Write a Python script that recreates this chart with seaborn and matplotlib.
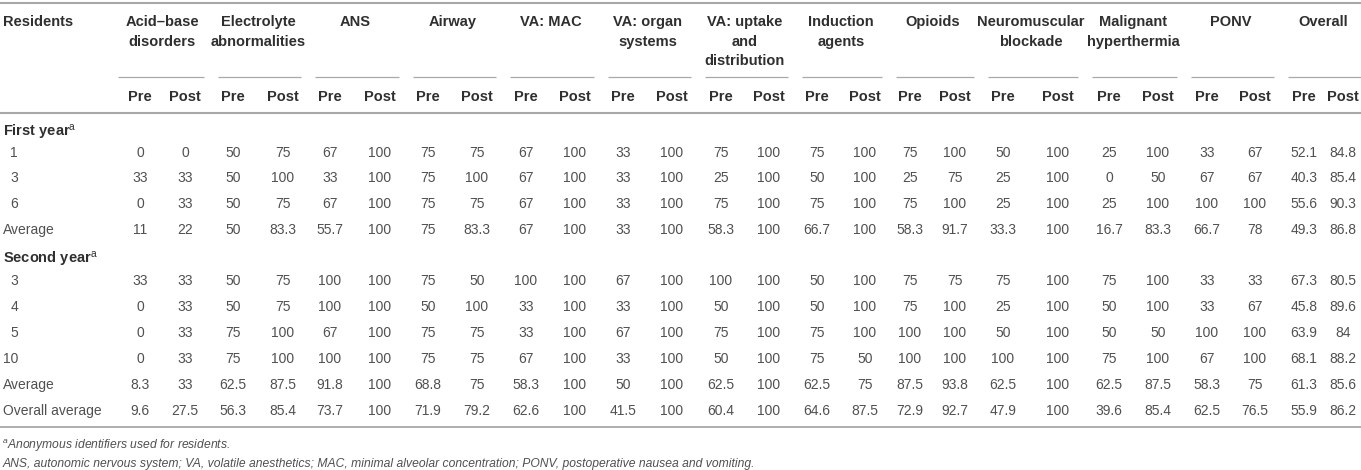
import matplotlib
matplotlib.use("Agg")
import matplotlib.pyplot as plt
import seaborn as sns

# ---------------- data ----------------
topics = [
    ["Acid\u2013base", "disorders"],
    ["Electrolyte", "abnormalities"],
    ["ANS"],
    ["Airway"],
    ["VA: MAC"],
    ["VA: organ", "systems"],
    ["VA: uptake", "and", "distribution"],
    ["Induction", "agents"],
    ["Opioids"],
    ["Neuromuscular", "blockade"],
    ["Malignant", "hyperthermia"],
    ["PONV"],
    ["Overall"],
]
sub_labels = ["Pre", "Post"]

first_year_ids = ["1", "3", "6"]
first_year_values = [
    ["0", "0", "50", "75", "67", "100", "75", "75", "67", "100", "33", "100", "75", "100", "75", "100", "75", "100", "50", "100", "25", "100", "33", "67", "52.1", "84.8"],
    ["33", "33", "50", "100", "33", "100", "75", "100", "67", "100", "33", "100", "25", "100", "50", "100", "25", "75", "25", "100", "0", "50", "67", "67", "40.3", "85.4"],
    ["0", "33", "50", "75", "67", "100", "75", "75", "67", "100", "33", "100", "75", "100", "75", "100", "75", "100", "25", "100", "25", "100", "100", "100", "55.6", "90.3"],
]
first_year_average = ["11", "22", "50", "83.3", "55.7", "100", "75", "83.3", "67", "100", "33", "100", "58.3", "100", "66.7", "100", "58.3", "91.7", "33.3", "100", "16.7", "83.3", "66.7", "78", "49.3", "86.8"]

second_year_ids = ["3", "4", "5", "10"]
second_year_values = [
    ["33", "33", "50", "75", "100", "100", "75", "50", "100", "100", "67", "100", "100", "100", "50", "100", "75", "75", "75", "100", "75", "100", "33", "33", "67.3", "80.5"],
    ["0", "33", "50", "75", "100", "100", "50", "100", "33", "100", "33", "100", "50", "100", "50", "100", "75", "100", "25", "100", "50", "100", "33", "67", "45.8", "89.6"],
    ["0", "33", "75", "100", "67", "100", "75", "75", "33", "100", "67", "100", "75", "100", "75", "100", "100", "100", "50", "100", "50", "50", "100", "100", "63.9", "84"],
    ["0", "33", "75", "100", "100", "100", "75", "75", "67", "100", "33", "100", "50", "100", "75", "50", "100", "100", "100", "100", "75", "100", "67", "100", "68.1", "88.2"],
]
second_year_average = ["8.3", "33", "62.5", "87.5", "91.8", "100", "68.8", "75", "58.3", "100", "50", "100", "62.5", "100", "62.5", "75", "87.5", "93.8", "62.5", "100", "62.5", "87.5", "58.3", "75", "61.3", "85.6"]

overall_average = ["9.6", "27.5", "56.3", "85.4", "73.7", "100", "71.9", "79.2", "62.6", "100", "41.5", "100", "60.4", "100", "64.6", "87.5", "72.9", "92.7", "47.9", "100", "39.6", "85.4", "62.5", "76.5", "55.9", "86.2"]

footnote_a = "Anonymous identifiers used for residents."
footnote_abbr = ("ANS, autonomic nervous system; VA, volatile anesthetics; MAC, minimal alveolar "
                 "concentration; PONV, postoperative nausea and vomiting.")

# ---------------- style ----------------
sns.set_theme(style="white")
plt.rcParams["font.family"] = ["Liberation Sans", "DejaVu Sans"]
plt.rcParams["mathtext.fontset"] = "custom"
plt.rcParams["mathtext.rm"] = "Liberation Sans"
plt.rcParams["mathtext.it"] = "Liberation Sans:italic"
plt.rcParams["mathtext.bf"] = "Liberation Sans:bold"

HEAD = "#2f2f2f"
BODY = "#505050"
RULE = "#a8a8a8"
FS = 10.0
FS_HEAD = 10.5
FS_NOTE = 8.7

# layout (pixel coordinates)
W, H = 1361, 470
col_x = [140, 185, 233, 283, 330, 380, 428, 477, 526, 575, 623, 672, 721, 769,
         817, 865, 910, 955, 1003, 1058, 1109, 1158, 1207, 1255, 1304, 1343]

fig = plt.figure(figsize=(W / 100, H / 100), dpi=100)
ax = fig.add_axes([0, 0, 1, 1])
ax.set_xlim(0, W)
ax.set_ylim(H, 0)
ax.axis("off")
sns.despine(ax=ax, left=True, bottom=True)

def txt(x, yc, s, **kw):
    # yc: visual centre of capitals -> baseline slightly lower
    kw.setdefault("fontsize", FS)
    kw.setdefault("color", BODY)
    ax.text(x, yc + 5, s, va="baseline", **kw)

def head(x, yc, s, **kw):
    txt(x, yc, s, fontweight="bold", color=HEAD, fontsize=FS_HEAD, **kw)

# rules
ax.hlines(2.5, 0, W, color=RULE, lw=1.5)
ax.hlines(113, 0, W, color=RULE, lw=1.5)
ax.hlines(427, 0, W, color=RULE, lw=1.3)

# header
head(3, 21, "Residents", ha="left")
line_y = [21, 41, 60]
for g, lines in enumerate(topics):
    xp, xq = col_x[2 * g], col_x[2 * g + 1]
    xc = (xp + xq) / 2
    for k, s in enumerate(lines):
        head(xc, line_y[k], s, ha="center")
    left = (col_x[2 * g - 1] + xp) / 2 + 9 if g > 0 else xp - 22
    right = (xq + col_x[2 * g + 2]) / 2 - 5 if g < len(topics) - 1 else W
    ax.hlines(77, left, right, color=RULE, lw=0.9)
    for j, lab in enumerate(sub_labels):
        head(col_x[2 * g + j], 96, lab, ha="center")

def data_row(yc, label, values, indent):
    if indent:
        txt(18, yc, label, ha="right")
    else:
        txt(3, yc, label, ha="left")
    for x, v in zip(col_x, values):
        txt(x, yc, v, ha="center")

# first year
head(3, 132, r"First year$^{\mathrm{a}}$", ha="left")
ys = [152, 177.5, 203]
for y, rid, vals in zip(ys, first_year_ids, first_year_values):
    data_row(y, rid, vals, True)
data_row(229, "Average", first_year_average, False)

# second year
head(3, 259, r"Second year$^{\mathrm{a}}$", ha="left")
ys = [280, 306, 332, 358]
for y, rid, vals in zip(ys, second_year_ids, second_year_values):
    data_row(y, rid, vals, rid != "10")
data_row(384, "Average", second_year_average, False)
data_row(410, "Overall average", overall_average, False)

# footnotes
txt(2, 443.5, r"$^{a}$" + footnote_a, ha="left", fontstyle="italic", fontsize=FS_NOTE)
txt(3, 461.5, footnote_abbr, ha="left", fontstyle="italic", fontsize=FS_NOTE)

fig.savefig("out.png", dpi=100, facecolor="white")
